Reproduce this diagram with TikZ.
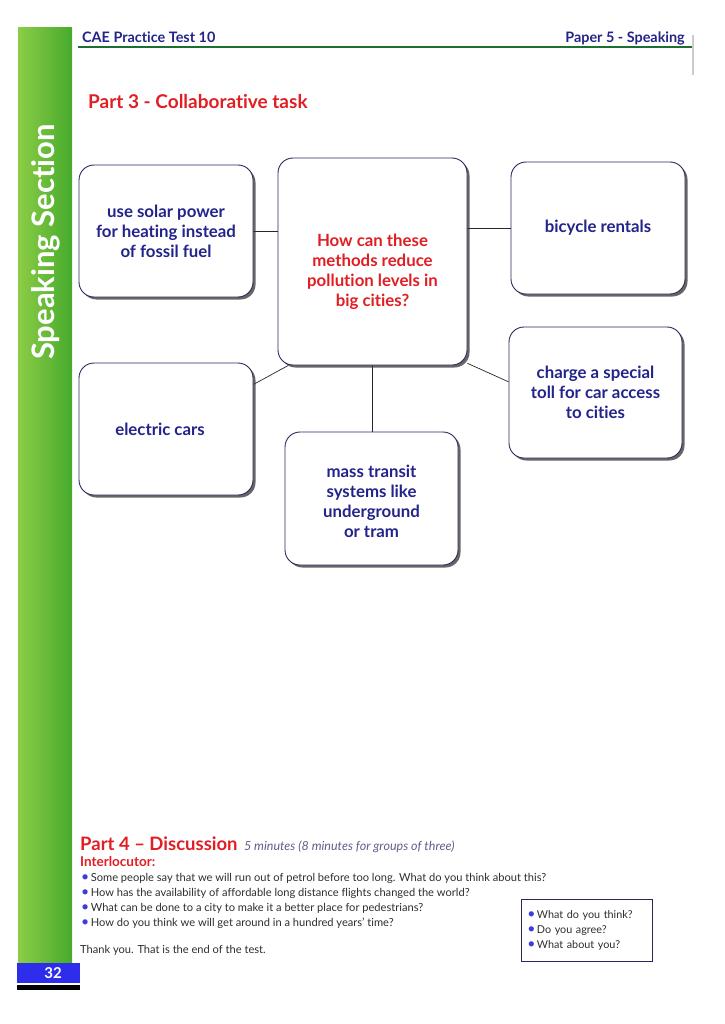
\documentclass[tikz,border=0pt]{standalone}
\usepackage{fontspec}
\setmainfont{Lato}[Ligatures=NoCommon]
\usetikzlibrary{shadows,positioning,backgrounds}
\definecolor{ink}{RGB}{35,35,140}
\definecolor{frame}{RGB}{40,40,95}
\definecolor{hot}{RGB}{225,30,35}
\definecolor{leaf}{RGB}{30,110,50}
\definecolor{gr1}{RGB}{140,205,70}
\definecolor{gr2}{RGB}{70,170,45}
\definecolor{dot}{RGB}{60,60,220}
\definecolor{pg}{RGB}{45,45,235}
\definecolor{mist}{RGB}{95,95,140}
\definecolor{body}{RGB}{45,45,45}
\newcommand{\qdot}{\textcolor{dot}{\fontsize{14}{14}\selectfont\textbullet}\hspace{1.5pt}}

\begin{document}
\begin{tikzpicture}[x=1pt,y=-1pt,
    idea/.style={rectangle,draw=frame,line width=0.9pt,rounded corners=15pt,fill=white,
      minimum width=174pt,minimum height=132pt,align=center,text=ink,
      font=\bfseries\fontsize{16.8}{20}\selectfont,
      drop shadow={shadow xshift=2.5pt,shadow yshift=-2.5pt,opacity=0.75,fill=black!80}},
    link/.style={line width=0.7pt,draw=black!85},
    line/.style={anchor=base west,inner sep=0pt,text=body,font=\fontsize{11.1}{15}\selectfont},
]
\useasboundingbox (0,0) rectangle (724,1024);

% side strip
\shade[left color=gr1,right color=gr2] (18,28) rectangle (72,963);
\node[rotate=90,text=white,font=\bfseries\fontsize{31}{31}\selectfont] (side) at (46,242) {Speaking Section};
\node[fill=pg,text=white,font=\bfseries\fontsize{15}{15}\selectfont,minimum width=63pt,minimum height=20pt,inner sep=0pt] (pageno) at (48.5,973) {\hspace*{9pt}32};
\fill[black] (17,985) rectangle (80,990);

% header
\node[anchor=base west,inner sep=0pt,text=ink,font=\bfseries\fontsize{14.4}{16}\selectfont] (hdrL) at (82,43) {CAE Practice Test 10};
\node[anchor=base east,inner sep=0pt,text=ink,font=\bfseries\fontsize{14.4}{16}\selectfont] (hdrR) at (685,43) {Paper 5 - Speaking};
\draw[leaf,line width=2pt] (78,47) -- (692,47);
\draw[black!20,line width=2pt] (693,35) -- (693,75);

\node[anchor=base west,inner sep=0pt,text=hot,font=\bfseries\fontsize{19}{22}\selectfont] (part3) at (88,109) {Part 3 - Collaborative task};

% task boxes
\node[idea] (solar) at (166,231) {use solar power\\for heating instead\\of fossil fuel};
\node[idea,minimum width=189pt,minimum height=207pt,text=hot] (core) at (372.5,261.5) {\rule{0pt}{33pt}How can these\\methods reduce\\pollution levels in\\big cities?};
\node[idea] (bike) at (598,228) {bicycle rentals};
\node[idea,minimum width=173pt,minimum height=131pt] (toll) at (595.5,392.5) {charge a special\\toll for car access\\to cities};
\node[idea] (ecar) at (166,429) {\hspace*{-12pt}electric cars};
\node[idea,minimum width=173pt,minimum height=133pt] (transit) at (371.5,498.5) {\rule{0pt}{18pt}mass transit\\systems like\\underground\\or tram};

\begin{scope}[on background layer]
\draw[link] (solar.east) -- (solar.east -| core.west);
\draw[link] (bike.west) -- (bike.west -| core.east);
\draw[link] (core.313) -- (toll.173);
\draw[link] (core.231) -- (ecar.27);
\draw[link] (core.south) -- (core.south |- transit.north);
\end{scope}

% part 4
\node[anchor=base west,inner sep=0pt,text=hot,font=\bfseries\fontsize{18.5}{22}\selectfont] (part4) at (80,850) {Part 4 – Discussion};
\node[anchor=base west,inner sep=0pt,text=mist,font=\itshape\fontsize{12.5}{14}\selectfont] (mins) at ([xshift=6pt]part4.base east) {5 minutes (8 minutes for groups of three)};
\node[anchor=base west,inner sep=0pt,text=hot,font=\bfseries\fontsize{13.5}{14}\selectfont] (interloc) at (80,866) {Interlocutor:};
\foreach \q [count=\i] in {Some people say that we will run out of petrol before too long. What do you think about this?,
    How has the availability of affordable long distance flights changed the world?,
    What can be done to a city to make it a better place for pedestrians?,
    How do you think we will get around in a hundred years' time?}
  \node[line] (q\i) at (81,866+15*\i) {\qdot\q};
\node[line] (thanks) at (80,953) {Thank you. That is the end of the test.};

\node[draw=frame,line width=0.6pt,anchor=north west,minimum width=131pt,minimum height=62pt,
  text width=119pt,inner xsep=6pt,align=left,text=body,font=\fontsize{10.8}{15}\selectfont] (prompts) at (521,899)
  {\qdot What do you think?\\\qdot Do you agree?\\\qdot What about you?};
\end{tikzpicture}
\end{document}
